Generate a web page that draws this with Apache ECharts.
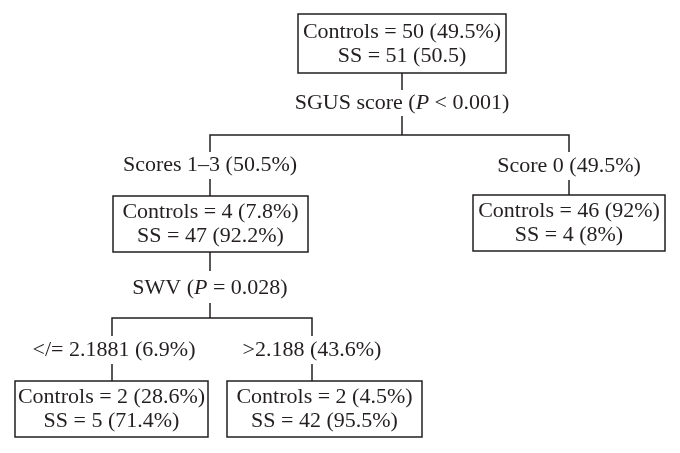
<!DOCTYPE html>
<html>
<head>
<meta charset="utf-8">
<script src="https://cdn.jsdelivr.net/npm/echarts@6/dist/echarts.min.js"></script>
<style>
  html, body { margin: 0; padding: 0; background: #fff; }
  #chart { width: 680px; height: 453px; }
</style>
</head>
<body>
<div id="chart"></div>
<script>
// node contents (controls / SS counts)
const nodeText = [
  ['Controls = 50 (49.5%)', 'SS = 51 (50.5)'],
  ['Controls = 4 (7.8%)', 'SS = 47 (92.2%)'],
  ['Controls = 46 (92%)', 'SS = 4 (8%)'],
  ['Controls = 2 (28.6%)', 'SS = 5 (71.4%)'],
  ['Controls = 2 (4.5%)', 'SS = 42 (95.5%)']
]
// split variables (rich tag i = italic P)
const splitText = ['SGUS score ({i|P} < 0.001)', 'SWV ({i|P} = 0.028)']
// branch labels
const branchText = ['Scores 1–3 (50.5%)', 'Score 0 (49.5%)', '</= 2.1881 (6.9%)', '>2.188 (43.6%)']

// layout, in pixel-like axis units
const boxRect = [[298, 14, 506, 73], [113, 196, 308, 252], [473, 195, 665, 251], [15, 381, 208, 437], [227, 381, 422, 437]]
const splitPos = [[402, 103], [210, 288]]
const branchPos = [[210, 165], [569, 166], [114, 350], [312, 350]]
const links = [
  [[402, 73], [402, 90]], [[402, 116], [402, 135]],
  [[210, 152], [210, 135], [569, 135], [569, 152]],
  [[210, 179], [210, 196]], [[569, 180], [569, 195]],
  [[210, 252], [210, 271]], [[210, 303], [210, 318]],
  [[112, 336], [112, 318], [312, 318], [312, 336]],
  [[112, 364], [112, 381]], [[312, 364], [312, 381]]
]

const ink = '#231f20'
const font = '"Liberation Serif", "Times New Roman", serif'
const size = 22

const chart = echarts.init(document.getElementById('chart'))

chart.setOption({
  animation: false,
  grid: { left: 0, right: 0, top: 0, bottom: 0 },
  xAxis: { type: 'value', min: 0, max: 680, show: false },
  yAxis: { type: 'value', min: 0, max: 453, inverse: true, show: false },
  series: [
    {
      type: 'lines',
      coordinateSystem: 'cartesian2d',
      polyline: true,
      silent: true,
      lineStyle: { color: ink, width: 1.5, opacity: 1 },
      data: links.map(c => ({ coords: c }))
    },
    {
      type: 'custom',
      silent: true,
      data: boxRect.map((r, i) => [r[0], r[1], r[2], r[3], i]),
      renderItem(params, api) {
        const p0 = api.coord([api.value(0), api.value(1)])
        const p1 = api.coord([api.value(2), api.value(3)])
        const lines = nodeText[api.value(4)]
        const cx = (p0[0] + p1[0]) / 2
        const cy = (p0[1] + p1[1]) / 2
        return {
          type: 'group',
          children: [
            {
              type: 'rect',
              shape: { x: p0[0], y: p0[1], width: p1[0] - p0[0], height: p1[1] - p0[1] },
              style: { fill: '#fff', stroke: ink, lineWidth: 1.5 }
            },
            {
              type: 'text',
              style: {
                x: cx, y: cy - 11.5, text: lines[0], fill: ink,
                font: size + 'px ' + font, textAlign: 'center', textVerticalAlign: 'middle'
              }
            },
            {
              type: 'text',
              style: {
                x: cx, y: cy + 12.5, text: lines[1], fill: ink,
                font: size + 'px ' + font, textAlign: 'center', textVerticalAlign: 'middle'
              }
            }
          ]
        }
      }
    },
    {
      type: 'custom',
      silent: true,
      data: splitPos.map((p, i) => [p[0], p[1], i]).concat(branchPos.map((p, i) => [p[0], p[1], i + splitText.length])),
      renderItem(params, api) {
        const p = api.coord([api.value(0), api.value(1)])
        const k = api.value(2)
        const txt = k < splitText.length ? splitText[k] : branchText[k - splitText.length]
        return {
          type: 'text',
          style: {
            x: p[0], y: p[1], text: txt, fill: ink,
            fontFamily: font, fontSize: size,
            textAlign: 'center', textVerticalAlign: 'middle',
            rich: { i: { fontFamily: font, fontSize: size, fontStyle: 'italic', fill: ink } }
          }
        }
      }
    }
  ]
})
</script>
</body>
</html>
